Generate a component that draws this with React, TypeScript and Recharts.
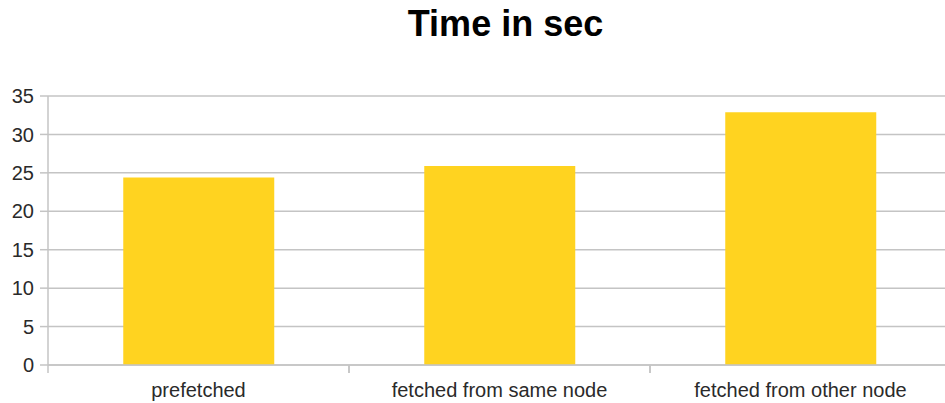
import { BarChart, Bar, XAxis, YAxis, CartesianGrid } from "recharts";

const categories = ["prefetched", "fetched from same node", "fetched from other node"];
const timeSec = [24.4, 25.9, 32.9];
const yTicks = [0, 5, 10, 15, 20, 25, 30, 35];

const data = categories.map((name, i) => ({ name, time: timeSec[i] }));

const gridColor = "#c4c4c4";
const textColor = "#2a2a2a";

// category labels with tick marks on the band boundaries (LibreOffice style)
const CategoryTick = (props: any) => {
  const { x, y, payload } = props;
  const half = payload.offset ?? 0;
  return (
    <g>
      <line x1={x - half} x2={x - half} y1={y - 8} y2={y} stroke={gridColor} strokeWidth={1.5} />
      <line x1={x + half} x2={x + half} y1={y - 8} y2={y} stroke={gridColor} strokeWidth={1.5} />
      <text x={x} y={y + 24} textAnchor="middle" fontSize={20} fill={textColor}>
        {payload.value}
      </text>
    </g>
  );
};

export default function App() {
  return (
    <div
      style={{
        position: "absolute",
        left: 0,
        top: 0,
        width: 945,
        height: 403,
        overflow: "hidden",
        background: "#fff",
        fontFamily: "'Liberation Sans', Arial, sans-serif",
      }}
    >
      <div
        style={{
          position: "absolute",
          left: 0,
          top: 6,
          width: 945,
          paddingLeft: 66,
          boxSizing: "border-box",
          textAlign: "center",
          fontSize: 36,
          fontWeight: 700,
          lineHeight: 1,
          color: "#000",
        }}
      >
        Time in sec
      </div>
      <BarChart
        width={945}
        height={403}
        data={data}
        margin={{ top: 96, right: -6, bottom: 0, left: 0 }}
        barCategoryGap="25%"
      >
        <CartesianGrid vertical={false} stroke={gridColor} strokeWidth={1.5} />
        <XAxis
          dataKey="name"
          height={38}
          interval={0}
          tickLine={false}
          tickSize={8}
          tickMargin={0}
          axisLine={{ stroke: gridColor, strokeWidth: 1.5 }}
          tick={<CategoryTick />}
        />
        <YAxis
          width={48}
          domain={[0, 35]}
          ticks={yTicks}
          tickSize={8}
          tickMargin={6}
          tickLine={{ stroke: gridColor, strokeWidth: 1.5 }}
          axisLine={{ stroke: gridColor, strokeWidth: 1.5 }}
          tick={{ fontSize: 20, fill: textColor }}
        />
        <Bar dataKey="time" fill="#ffd320" isAnimationActive={false} />
      </BarChart>
    </div>
  );
}
